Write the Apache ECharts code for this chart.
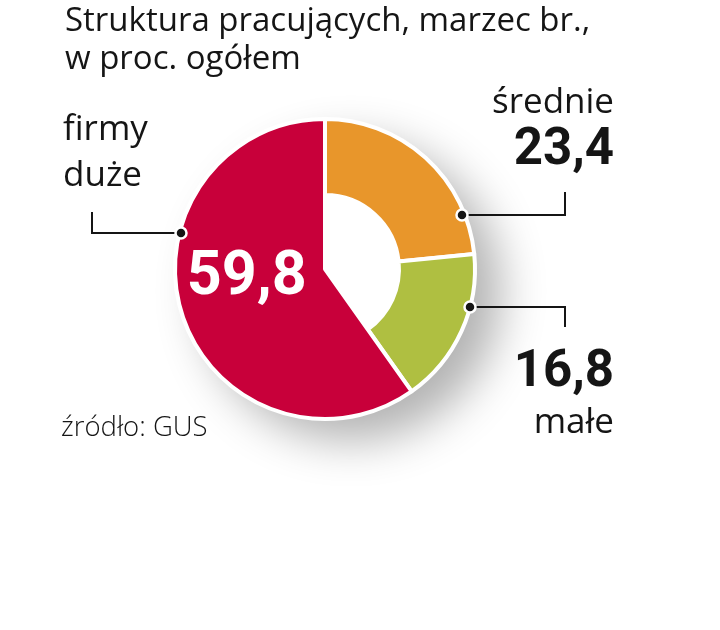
<!DOCTYPE html>
<html>
<head>
<meta charset="utf-8">
<script src="https://cdn.jsdelivr.net/npm/echarts@6/dist/echarts.min.js"></script>
<style>
html,body{margin:0;padding:0;background:#fff;}
#c{width:720px;height:630px;}
</style>
</head>
<body>
<div id="c"></div>
<script>
// ---- data ----
const titleLines = ['Struktura pracujących, marzec br.,', 'w proc. ogółem'];
const sourceText = 'źródło: GUS';
const categories = ['średnie', 'małe', 'firmy duże'];
const values = [23.4, 16.8, 59.8];
const colors = ['#E8962B', '#AFBF41', '#C8003A'];

const fmt = v => v.toFixed(1).replace('.', ',');
const chart = echarts.init(document.getElementById('c'), null, {renderer: 'canvas'});

const center = [325, 269];
const R = 150, r0 = 74;
const FONT = '"Open Sans", Roboto, sans-serif';
const BFONT = 'Roboto, "Open Sans", sans-serif';

// ring series: orange & green (red hidden)
const ringData = categories.map((c, i) => ({
  name: c, value: values[i],
  itemStyle: i === 2 ? {color: 'transparent', borderWidth: 0} : {color: colors[i], borderColor: '#fff', borderWidth: 4}
}));
// full sector series: red only
const fullData = categories.map((c, i) => ({
  name: c, value: values[i],
  itemStyle: i === 2 ? {color: colors[i], borderColor: '#fff', borderWidth: 4} : {color: 'transparent', borderWidth: 0},
  label: i === 2 ? {show: true} : {show: false}
}));

const ink = '#151515';
function dot(x, y) {
  return {type: 'circle', shape: {cx: x, cy: y, r: 5.5}, style: {fill: ink, stroke: '#fff', lineWidth: 2.5}, z: 10};
}
function line(pts) {
  return {type: 'polyline', shape: {points: pts}, style: {stroke: ink, lineWidth: 2, fill: null}, z: 9};
}
function txt(x, y, t, size, weight, align, fam) {
  return {type: 'text', x: x, y: y, z: 10, style: {text: t, font: weight + ' ' + size + 'px ' + (fam || FONT), fill: ink, align: align, verticalAlign: 'bottom'}};
}

const option = {
  animation: false,
  title: [{
    text: titleLines.join('\n'), left: 60, top: -2,
    textStyle: {fontFamily: FONT, fontSize: 33, fontWeight: 400, color: ink, lineHeight: 38}
  }, {
    text: sourceText, left: 56, top: 409,
    textStyle: {fontFamily: FONT, fontSize: 27.5, fontWeight: 300, color: ink}
  }],
  series: [
    {
      type: 'pie', silent: true, center: center, radius: [0, R], startAngle: 90,
      label: {show: false}, labelLine: {show: false},
      data: [{value: 1, itemStyle: {color: '#fff', shadowBlur: 45, shadowColor: 'rgba(0,0,0,0.3)', shadowOffsetX: 26, shadowOffsetY: 22}}],
      z: 1
    },
    {
      type: 'pie', silent: true, center: center, radius: [r0, R], startAngle: 90, clockwise: true,
      label: {show: false}, labelLine: {show: false}, data: ringData, z: 2
    },
    {
      type: 'pie', silent: true, center: center, radius: [0, R], startAngle: 90, clockwise: true,
      label: {show: false, position: 'inside', formatter: p => fmt(p.value), color: '#fff', fontFamily: BFONT, fontSize: 61, fontWeight: 700},
      labelLayout: {dx: -4, dy: -14},
      labelLine: {show: false}, data: fullData, z: 3
    }
  ],
  graphic: [
    // firmy duże
    txt(63, 148, categories[2].split(' ')[0], 35, 400, 'left'),
    txt(63, 194, categories[2].split(' ')[1], 35, 400, 'left'),
    line([[92, 212], [92, 233], [180, 233]]),
    dot(181, 233),
    // średnie
    txt(614, 121, categories[0], 35, 400, 'right'),
    txt(614, 177, fmt(values[0]), 51, 700, 'right', BFONT),
    line([[565, 192], [565, 215], [462, 215]]),
    dot(462, 215),
    // małe
    txt(614, 399, fmt(values[1]), 51, 700, 'right', BFONT),
    txt(614, 441, categories[1], 35, 400, 'right'),
    line([[565, 327], [565, 307], [470, 307]]),
    dot(470, 307)
  ]
};
chart.setOption(option);
</script>
</body>
</html>
